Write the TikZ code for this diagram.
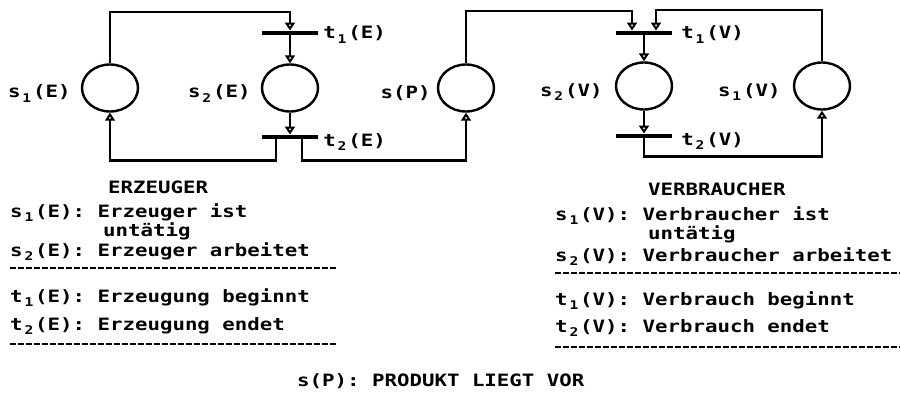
\documentclass[tikz,border=0pt]{standalone}
\usepackage{fontspec}
\usetikzlibrary{arrows.meta,positioning,shapes.geometric}
\newfontfamily\dotfont[FakeStretch=1.22]{DejaVu Sans Mono}
\newcommand{\ix}[1]{\makebox[12.5pt]{\raisebox{-4.5pt}{\fontsize{12}{12}\selectfont #1}}}

\begin{document}
\begin{tikzpicture}[
  x=1pt, y=-1pt,
  place/.style={
    draw,
    line width=2.4pt,
    ellipse,
    minimum width=56pt,
    minimum height=47pt,
    inner sep=0pt
  },
  bar/.style={fill=black,minimum width=56pt,minimum height=4.5pt,inner sep=0pt},
  arrow/.style={-{Triangle[open,length=8pt,width=10pt]},line width=2.2pt},
  lbl/.style={font={\dotfont\bfseries\fontsize{17}{19}\selectfont},inner sep=0pt},
  dashrule/.style={line width=2pt,dash pattern=on 6pt off 2pt}
]
  \useasboundingbox (0,0) rectangle (901,409);

  % net
  \node[place] (s1e) at (110,88) {};
  \node[bar] (t1e) at (290,33) {};
  \node[place] (s2e) at (290,88) {};
  \node[bar] (t2e) at (290,137) {};
  \node[place] (sp) at (466,88) {};
  \node[bar] (t1v) at (644,33) {};
  \node[place] (s2v) at (644,86) {};
  \node[bar] (t2v) at (644,136) {};
  \node[place] (s1v) at (822,86) {};

  \node[lbl,anchor=base east] (s1elabel) at ([shift={(-10,10)}]s1e.west) {s\ix{1}(E)};
  \node[lbl,anchor=base east] (s2elabel) at ([shift={(-10,10)}]s2e.west) {s\ix{2}(E)};
  \node[lbl,anchor=base east] (splabel) at ([shift={(-6,11)}]sp.west) {s(P)};
  \node[lbl,anchor=base east] (s2vlabel) at ([shift={(-12,10)}]s2v.west) {s\ix{2}(V)};
  \node[lbl,anchor=base east] (s1vlabel) at ([shift={(-12,10)}]s1v.west) {s\ix{1}(V)};
  \node[lbl,anchor=base west] (t1elabel) at ([shift={(5,6)}]t1e.east) {t\ix{1}(E)};
  \node[lbl,anchor=base west] (t2elabel) at ([shift={(5,9)}]t2e.east) {t\ix{2}(E)};
  \node[lbl,anchor=base west] (t1vlabel) at ([shift={(9,6)}]t1v.east) {t\ix{1}(V)};
  \node[lbl,anchor=base west] (t2vlabel) at ([shift={(9,9)}]t2v.east) {t\ix{2}(V)};

  \draw[arrow] (s1e.north)--++(0,-51)-|(t1e.north);
  \draw[arrow] (t1e.south)--(s2e.north);
  \draw[arrow] (s2e.south)--(t2e.north);
  \draw[arrow] ([xshift=-14pt]t2e.south)--++(0,21)-|(s1e.south);
  \draw[arrow] ([xshift=12pt]t2e.south)--++(0,21)-|(sp.south);
  \draw[arrow] (sp.north)--++(0,-52)-|([xshift=-12pt]t1v.north);
  \draw[arrow] (s1v.north)--++(0,-51)-|([xshift=12pt]t1v.north);
  \draw[arrow] (t1v.south)--(s2v.north);
  \draw[arrow] (s2v.south)--(t2v.north);
  \draw[arrow] (t2v.south)--++(0,18)-|(s1v.south);

  % legend
  \node[lbl,anchor=base west] (erz) at (108,193) {ERZEUGER};
  \node[lbl,anchor=base west] (s1edesc) at (10,217) {s\ix{1}(E): Erzeuger ist};
  \node[lbl,anchor=base west] (s1edesc2) at (103,236) {untätig};
  \node[lbl,anchor=base west] (s2edesc) at (10,256) {s\ix{2}(E): Erzeuger arbeitet};
  \node[lbl,anchor=base west] (t1edesc) at (10,302) {t\ix{1}(E): Erzeugung beginnt};
  \node[lbl,anchor=base west] (t2edesc) at (10,330) {t\ix{2}(E): Erzeugung endet};
  \draw[dashrule] (10,268)--(336,268);
  \draw[dashrule] (10,344)--(336,344);

  \node[lbl,anchor=base west] (verb) at (648,195) {VERBRAUCHER};
  \node[lbl,anchor=base west] (s1vdesc) at (555,220) {s\ix{1}(V): Verbraucher ist};
  \node[lbl,anchor=base west] (s1vdesc2) at (648,239) {untätig};
  \node[lbl,anchor=base west] (s2vdesc) at (555,261) {s\ix{2}(V): Verbraucher arbeitet};
  \node[lbl,anchor=base west] (t1vdesc) at (555,305) {t\ix{1}(V): Verbrauch beginnt};
  \node[lbl,anchor=base west] (t2vdesc) at (555,332) {t\ix{2}(V): Verbrauch endet};
  \draw[dashrule] (555,273)--(900,273);
  \draw[dashrule] (555,347)--(900,347);

  \node[lbl,anchor=base west] (spdesc) at (297,386) {s(P): PRODUKT LIEGT VOR};
\end{tikzpicture}
\end{document}
